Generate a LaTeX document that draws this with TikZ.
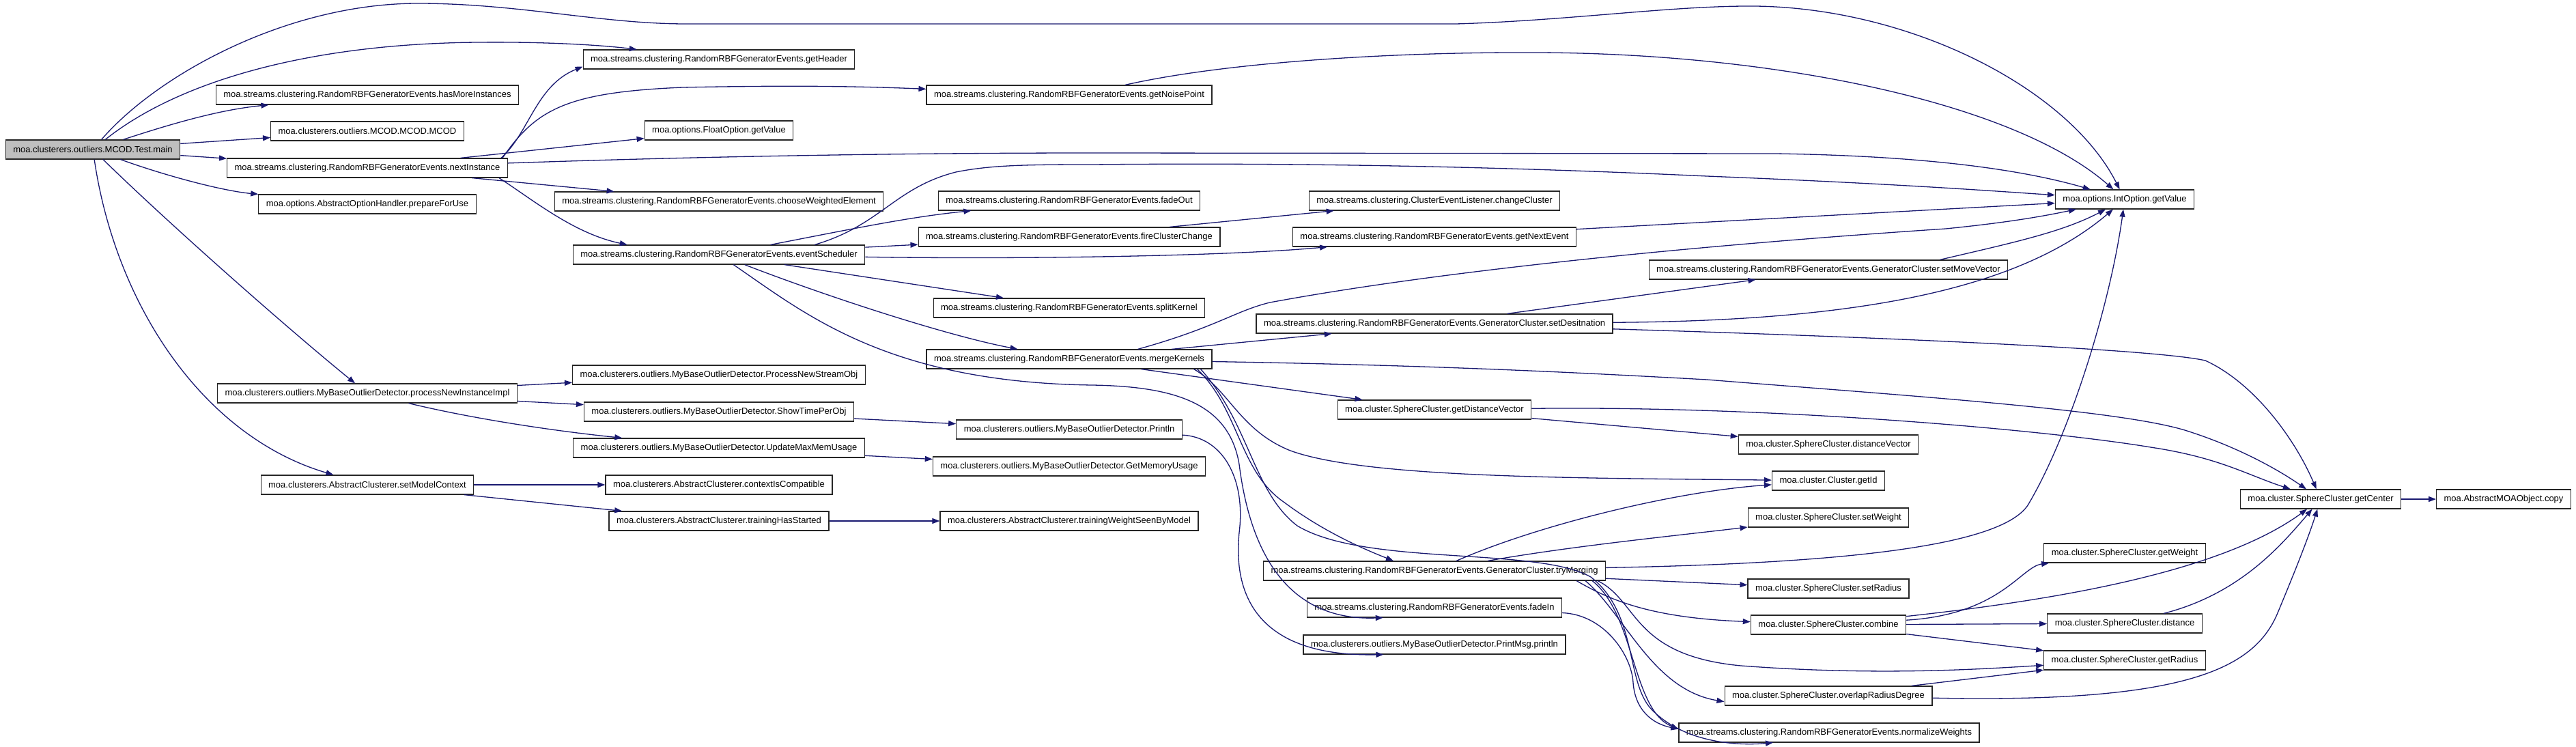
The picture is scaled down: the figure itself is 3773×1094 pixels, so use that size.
\documentclass[tikz,border=0pt]{standalone}
\usepackage{fontspec}
\setmainfont{Liberation Sans}
\usetikzlibrary{arrows.meta}
\definecolor{callblue}{HTML}{191970}
\definecolor{rootgray}{HTML}{BFBFBF}

\begin{document}
\begin{tikzpicture}[x=1pt, y=-1pt,
  call/.style={draw=callblue, line width=1.3pt, -{Triangle[length=11pt,width=8pt]}}]

  \path[fill=white] (0,0) rectangle (3773,1094);

  % Funciones (cajas)
  \begin{scope}[every node/.style={draw=black!85, line width=1.2pt, fill=white, rectangle,
      inner xsep=11pt, inner ysep=0pt, minimum height=28pt, font=\fontsize{13}{15}\selectfont}]
    \node[fill=rootgray] (main) at (136,219) {moa.clusterers.outliers.MCOD.Test.main};

    \node (hasmore)  at (538,139) {moa.streams.clustering.RandomRBFGeneratorEvents.hasMoreInstances};
    \node (mcod)     at (538,192) {moa.clusterers.outliers.MCOD.MCOD.MCOD};
    \node (nextinst) at (538,246) {moa.streams.clustering.RandomRBFGeneratorEvents.nextInstance};
    \node (prepare)  at (538,299) {moa.options.AbstractOptionHandler.prepareForUse};
    \node (procnew)  at (538,576) {moa.clusterers.outliers.MyBaseOutlierDetector.processNewInstanceImpl};
    \node (setmodel) at (538,710) {moa.clusterers.AbstractClusterer.setModelContext};

    \node (getheader)  at (1053,87)  {moa.streams.clustering.RandomRBFGeneratorEvents.getHeader};
    \node (floatget)   at (1053,191) {moa.options.FloatOption.getValue};
    \node (choosew)    at (1053,295) {moa.streams.clustering.RandomRBFGeneratorEvents.chooseWeightedElement};
    \node (evsched)    at (1053,373) {moa.streams.clustering.RandomRBFGeneratorEvents.eventScheduler};
    \node (procstream) at (1053,549) {moa.clusterers.outliers.MyBaseOutlierDetector.ProcessNewStreamObj};
    \node (showtime)   at (1053,603) {moa.clusterers.outliers.MyBaseOutlierDetector.ShowTimePerObj};
    \node (updatemem)  at (1053,656) {moa.clusterers.outliers.MyBaseOutlierDetector.UpdateMaxMemUsage};
    \node (ctxcompat)  at (1053,710) {moa.clusterers.AbstractClusterer.contextIsCompatible};
    \node (trainstart) at (1053,763) {moa.clusterers.AbstractClusterer.trainingHasStarted};

    \node (noise)       at (1566,139) {moa.streams.clustering.RandomRBFGeneratorEvents.getNoisePoint};
    \node (fadeout)     at (1566,294) {moa.streams.clustering.RandomRBFGeneratorEvents.fadeOut};
    \node (firechange)  at (1566,347) {moa.streams.clustering.RandomRBFGeneratorEvents.fireClusterChange};
    \node (split)       at (1566,451) {moa.streams.clustering.RandomRBFGeneratorEvents.splitKernel};
    \node (merge)       at (1566,526) {moa.streams.clustering.RandomRBFGeneratorEvents.mergeKernels};
    \node (println)     at (1566,629) {moa.clusterers.outliers.MyBaseOutlierDetector.Println};
    \node (getmem)      at (1566,683) {moa.clusterers.outliers.MyBaseOutlierDetector.GetMemoryUsage};
    \node (trainweight) at (1566,763) {moa.clusterers.AbstractClusterer.trainingWeightSeenByModel};

    \node (changecl)   at (2101,294) {moa.streams.clustering.ClusterEventListener.changeCluster};
    \node (nextevent)  at (2101,347) {moa.streams.clustering.RandomRBFGeneratorEvents.getNextEvent};
    \node (setdest)    at (2101,474) {moa.streams.clustering.RandomRBFGeneratorEvents.GeneratorCluster.setDesitnation};
    \node (getdistvec) at (2101,600) {moa.cluster.SphereCluster.getDistanceVector};
    \node (trymerge)   at (2101,836) {moa.streams.clustering.RandomRBFGeneratorEvents.GeneratorCluster.tryMerging};
    \node (fadein)     at (2101,890) {moa.streams.clustering.RandomRBFGeneratorEvents.fadeIn};
    \node (printmsg)   at (2101,944) {moa.clusterers.outliers.MyBaseOutlierDetector.PrintMsg.println};

    \node (setmove)   at (2678,395)  {moa.streams.clustering.RandomRBFGeneratorEvents.GeneratorCluster.setMoveVector};
    \node (distvec)   at (2678,651)  {moa.cluster.SphereCluster.distanceVector};
    \node (getid)     at (2678,704)  {moa.cluster.Cluster.getId};
    \node (setweight) at (2678,758)  {moa.cluster.SphereCluster.setWeight};
    \node (setradius) at (2678,862)  {moa.cluster.SphereCluster.setRadius};
    \node (combine)   at (2678,915)  {moa.cluster.SphereCluster.combine};
    \node (overlap)   at (2678,1019) {moa.cluster.SphereCluster.overlapRadiusDegree};
    \node (normw)     at (2679,1073) {moa.streams.clustering.RandomRBFGeneratorEvents.normalizeWeights};

    \node (intget)    at (3112,292) {moa.options.IntOption.getValue};
    \node (getweight) at (3112,810) {moa.cluster.SphereCluster.getWeight};
    \node (distance)  at (3112,913) {moa.cluster.SphereCluster.distance};
    \node (getradius) at (3112,967) {moa.cluster.SphereCluster.getRadius};

    \node (getcenter) at (3399,731) {moa.cluster.SphereCluster.getCenter};
    \node (copy)      at (3667,731) {moa.AbstractMOAObject.copy};
  \end{scope}

  % Llamadas desde main
  \draw[call] (main) .. controls (230,110) and (420,5) .. (612,5) .. controls (760,5) and (880,35) .. (1005,35)
    -- (2133,35) .. controls (2300,30) and (2450,8) .. (2571,9) .. controls (2800,12) and (3030,130) .. (intget);
  \draw[call] (main) .. controls (260,120) and (450,64) .. (700,62) .. controls (800,61) and (880,66) .. (getheader);
  \draw[call] (main) .. controls (270,175) and (330,160) .. (hasmore);
  \draw[call] (main) -- (mcod);
  \draw[call] (main) -- (nextinst);
  \draw[call] (main) .. controls (250,260) and (330,280) .. (prepare);
  \draw[call] (main) .. controls (250,330) and (420,480) .. (procnew);
  \draw[call] (main) .. controls (170,450) and (300,640) .. (setmodel);

  % nextInstance
  \draw[call] ([xshift=-10pt]nextinst.north east) .. controls (775,195) and (785,125) .. ([yshift=4pt]getheader.south west);
  \draw[call] ([xshift=-8pt]nextinst.north east) .. controls (785,160) and (830,135) .. (1000,128)
    .. controls (1150,125) and (1250,126) .. (noise);
  \draw[call] (nextinst) -- (floatget);
  \draw[call] (nextinst) .. controls (1000,230) and (1300,224) .. (1600,224) -- (2600,225)
    .. controls (2800,228) and (2950,245) .. (intget);
  \draw[call] (nextinst) -- (choosew);
  \draw[call] ([xshift=-13pt]nextinst.south east) .. controls (780,292) and (840,342) .. ([xshift=80pt]evsched.north west);

  % processNewInstanceImpl y setModelContext
  \draw[call] (procnew) -- (procstream);
  \draw[call] (procnew) -- (showtime);
  \draw[call] (procnew) .. controls (700,615) and (820,632) .. (updatemem);
  \draw[call] (setmodel) -- (ctxcompat);
  \draw[call] (setmodel) -- (trainstart);
  \draw[call] (showtime) -- (println);
  \draw[call] (updatemem) -- (getmem);
  \draw[call] (trainstart) -- (trainweight);

  % eventScheduler
  \draw[call] (evsched) .. controls (1250,335) and (1330,318) .. (fadeout);
  \draw[call] (evsched) -- (firechange);
  \draw[call] (evsched) .. controls (1500,380) and (1800,375) .. (nextevent);
  \draw[call] ([xshift=-74pt]evsched.north east) .. controls (1290,330) and (1310,275) .. (1400,252)
    .. controls (1450,242) and (1500,241) .. (1600,241) .. controls (1900,238) and (2200,244) .. (2500,258)
    .. controls (2800,270) and (2950,282) .. (intget);
  \draw[call] (evsched) -- (split);
  \draw[call] (evsched) .. controls (1200,430) and (1380,490) .. (merge);
  \draw[call] (evsched) .. controls (1180,460) and (1300,560) .. (1600,564)
    .. controls (1720,566) and (1800,590) .. (1815,680)
    .. controls (1830,800) and (1880,910) .. ([xshift=112pt]fadein.south west);
  \draw[call] (println) .. controls (1790,640) and (1825,700) .. (1815,780)
    .. controls (1805,880) and (1850,962) .. ([xshift=118pt]printmsg.south west);
  \draw[call] (firechange) -- (changecl);
  \draw[call] (nextevent) -- (intget);
  \draw[call] ([xshift=82pt]noise.north) .. controls (1800,90) and (2050,76) .. (2250,77)
    .. controls (2600,78) and (2950,150) .. (intget);

  % mergeKernels
  \draw[call] ([xshift=-109pt]merge.north east) .. controls (1780,480) and (1810,455) .. (1860,443)
    .. controls (2200,380) and (2700,345) .. (2850,335) .. controls (2950,325) and (3000,315) .. (intget);
  \draw[call] (merge) -- (setdest);
  \draw[call] (merge) .. controls (2100,535) and (2300,545) .. (2500,556)
    .. controls (2800,580) and (3100,600) .. (3200,630) .. controls (3280,655) and (3340,690) .. (getcenter);
  \draw[call] (merge) -- (getdistvec);
  \draw[call] ([xshift=-27pt]merge.south east) .. controls (1800,570) and (1815,630) .. (1890,660)
    .. controls (2000,700) and (2300,700) .. (getid);
  \draw[call] ([xshift=-22pt]merge.south east) .. controls (1815,600) and (1815,690) .. (1880,735)
    .. controls (1940,780) and (2000,805) .. ([xshift=-60pt]trymerge.north);
  \draw[call] ([xshift=-17pt]merge.south east) .. controls (1830,620) and (1835,720) .. (1900,770)
    .. controls (2000,830) and (2250,800) .. (2330,845) .. controls (2400,900) and (2380,1000) .. (2420,1040)
    .. controls (2470,1090) and (2550,1092) .. ([xshift=-82pt]normw.south);

  % setDesitnation y setMoveVector
  \draw[call] (setdest) -- (setmove);
  \draw[call] (setdest) .. controls (2700,470) and (2950,430) .. (intget);
  \draw[call] (setdest) .. controls (2700,492) and (3150,510) .. (3230,528)
    .. controls (3300,560) and (3360,640) .. (getcenter);
  \draw[call] ([xshift=-100pt]setmove.north east) .. controls (2950,355) and (3020,340) .. (intget);

  % getDistanceVector
  \draw[call] (getdistvec) -- (distvec);
  \draw[call] (getdistvec) .. controls (2600,594) and (3000,630) .. (3150,655)
    .. controls (3250,670) and (3290,695) .. (getcenter);

  % tryMerging
  \draw[call] (trymerge) .. controls (2700,825) and (2930,800) .. (2970,740)
    .. controls (3030,640) and (3090,450) .. (intget);
  \draw[call] (trymerge) -- (setradius);
  \draw[call] ([xshift=-173pt]trymerge.north east) .. controls (2300,800) and (2450,785) .. (setweight);
  \draw[call] ([xshift=-219pt]trymerge.north east) .. controls (2250,770) and (2450,720) .. (getid);
  \draw[call] ([xshift=-43pt]trymerge.south east) .. controls (2360,880) and (2420,905) .. (combine);
  \draw[call] ([xshift=-12pt]trymerge.south east) .. controls (2400,880) and (2390,960) .. (2550,975)
    .. controls (2750,990) and (2900,980) .. (getradius);
  \draw[call] ([xshift=-30pt]trymerge.south east) .. controls (2380,900) and (2420,1010) .. ([yshift=6pt]overlap.south west);
  \draw[call] ([xshift=-20pt]trymerge.south east) .. controls (2395,900) and (2390,1040) .. ([yshift=20pt]normw.south west);
  \draw[call] (fadein) .. controls (2350,900) and (2390,960) .. (2392,1000)
    .. controls (2395,1040) and (2420,1060) .. ([yshift=20pt]normw.south west);

  % combine, distance, overlapRadiusDegree
  \draw[call] (combine) .. controls (2930,900) and (2960,830) .. (getweight);
  \draw[call] (combine) -- (distance);
  \draw[call] (combine) -- (getradius);
  \draw[call] (combine) .. controls (3000,880) and (3250,840) .. (getcenter);
  \draw[call] (distance) .. controls (3280,870) and (3340,800) .. (getcenter);
  \draw[call] (overlap) -- (getradius);
  \draw[call] (overlap) .. controls (3200,1030) and (3300,980) .. (3335,900)
    .. controls (3360,840) and (3380,790) .. (getcenter);
  \draw[call] (getcenter) -- (copy);

\end{tikzpicture}
\end{document}
